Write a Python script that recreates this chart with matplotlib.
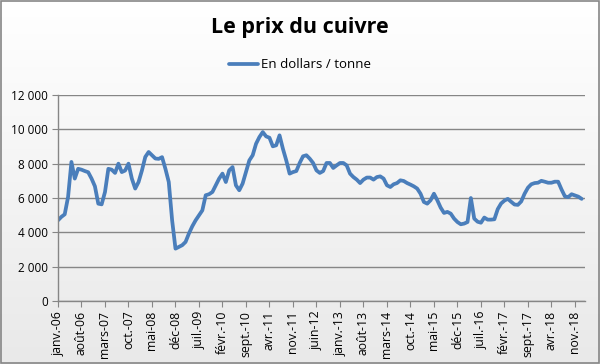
import numpy as np
import matplotlib
matplotlib.use("Agg")
import matplotlib.pyplot as plt
from matplotlib.patches import Rectangle

# prix mensuel du cuivre (USD / tonne), janv. 2006 -> janv. 2019
prix = [
    4700, 4900, 5050, 6060, 8100, 7130, 7700, 7650, 7570, 7500, 7130, 6680,  # 2006
    5670, 5630, 6350, 7700, 7650, 7460, 8000, 7510, 7600, 8000, 7130, 6550,  # 2007
    6930, 7600, 8390, 8680, 8490, 8300, 8280, 8380, 7700, 6930, 4700, 3050,  # 2008
    3150, 3250, 3440, 3930, 4350, 4700, 4990, 5280, 6160, 6220, 6350, 6740,  # 2009
    7130, 7420, 6930, 7610, 7800, 6740, 6450, 6840, 7510, 8190, 8490, 9160,  # 2010
    9550, 9840, 9590, 9510, 9010, 9070, 9650, 8870, 8190, 7420, 7510, 7570,  # 2011
    8040, 8430, 8490, 8290, 8040, 7610, 7460, 7570, 8040, 8040, 7750, 7900,  # 2012
    8040, 8040, 7900, 7420, 7220, 7070, 6870, 7070, 7190, 7190, 7070, 7220,  # 2013
    7260, 7130, 6740, 6640, 6800, 6870, 7030, 6990, 6870, 6780, 6680, 6550,  # 2014
    6250, 5770, 5670, 5870, 6250, 5870, 5440, 5130, 5190, 5090, 4800, 4600,  # 2015
    4470, 4510, 4600, 6000, 4800, 4620, 4560, 4860, 4740, 4740, 4760, 5350,  # 2016
    5680, 5850, 5950, 5780, 5620, 5600, 5800, 6250, 6600, 6800, 6870, 6890,  # 2017
    7000, 6950, 6890, 6890, 6950, 6950, 6500, 6100, 6050, 6220, 6150, 6080,  # 2018
    5950,                                                                    # 2019
]

etiquettes = [
    "janv.-06", "août-06", "mars-07", "oct.-07", "mai-08", "déc-08",
    "juil.-09", "févr.-10", "sept.-10", "avr.-11", "nov.-11", "juin-12",
    "janv.-13", "août-13", "mars-14", "oct.-14", "mai-15", "déc-15",
    "juil.-16", "févr.-17", "sept.-17", "avr.-18", "nov.-18",
]
pas_etiquette = 7

bleu = "#4a7ebb"
gris = "#868686"

fig = plt.figure(figsize=(6, 3.64), dpi=100)

# fond en degrade (blanc -> gris clair)
bg = fig.add_axes([0, 0, 1, 1], zorder=-10)
grad = np.linspace(1.0, 0.0, 256).reshape(-1, 1)
bg.imshow(grad, aspect="auto", cmap=matplotlib.colors.LinearSegmentedColormap.from_list(
    "fond", ["#e9e9e9", "#ffffff"]), extent=[0, 1, 0, 1])
bg.add_patch(Rectangle((0.001, 0.002), 0.997, 0.995, fill=False, edgecolor=gris,
                       lw=1.2, transform=bg.transAxes))
bg.axis("off")

ax = fig.add_axes([58 / 600, 1 - 301 / 364, (585 - 58) / 600, (301 - 95) / 364])
ax.set_facecolor("none")

x = np.arange(len(prix))
ax.plot(x, prix, color=bleu, lw=2.7, solid_capstyle="round", solid_joinstyle="round",
        label="En dollars / tonne")

ax.set_ylim(0, 12000)
ax.set_xlim(0, len(prix))
ax.set_yticks(range(0, 12001, 2000))
ax.set_yticklabels([f"{v:,}".replace(",", " ") for v in range(0, 12001, 2000)],
                   fontsize=8.5, family="Open Sans")
ticks = np.arange(len(etiquettes)) * pas_etiquette
ax.set_xticks(ticks)
ax.set_xticklabels(etiquettes, rotation=90, fontsize=8.8, family="Open Sans")
ax.grid(axis="y", color=gris, lw=1)
ax.set_axisbelow(True)
for side in ["top", "right"]:
    ax.spines[side].set_visible(False)
for side in ["left", "bottom"]:
    ax.spines[side].set_color(gris)
    ax.spines[side].set_linewidth(1)
ax.tick_params(axis="both", direction="out", length=4, color=gris, pad=3)

fig.text(0.5, 1 - 28 / 364, "Le prix du cuivre", ha="center", va="center",
         fontsize=15.5, fontweight="bold", family="Open Sans")
leg = ax.legend(loc="center", bbox_to_anchor=(0.5, 1 - 65 / 364), bbox_transform=fig.transFigure,
                frameon=False, prop={"family": "Open Sans", "size": 9.5},
                handlelength=2.2, handletextpad=0.2)

fig.savefig("out.png", dpi=100)
